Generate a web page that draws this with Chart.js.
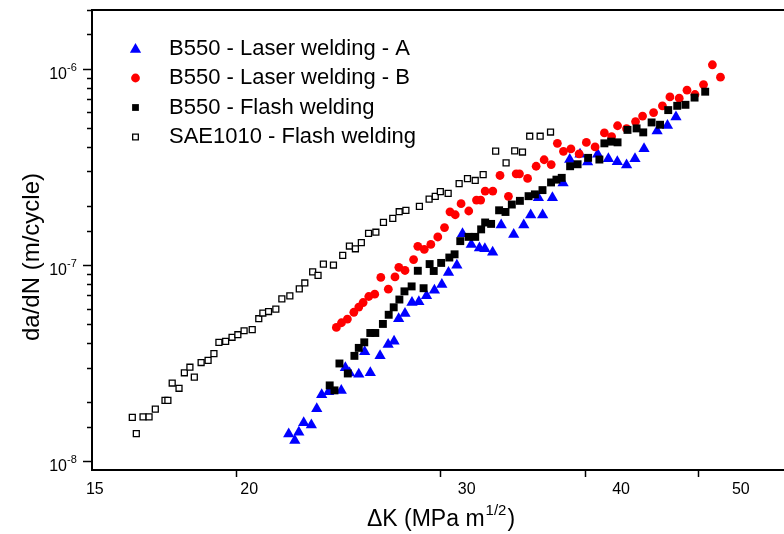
<!DOCTYPE html>
<html>
<head>
<meta charset="utf-8">
<script src="https://cdn.jsdelivr.net/npm/chart.js@4.4.1/dist/chart.umd.min.js"></script>
<style>
  html, body { margin: 0; padding: 0; background: #fff; overflow: hidden; }
  #wrap { width: 800px; height: 534px; }
</style>
</head>
<body>
<div id="wrap"><canvas id="myChart" width="800" height="534"></canvas></div>
<script>
// crack growth rate da/dN (m/cycle) against stress intensity range dK (MPa m^1/2)
const laserA_dK = [22.17,22.44,22.62,22.84,23.19,23.44,23.67,24.00,24.61,24.81,25.02,25.48,25.78,26.07,26.58,27.01,27.33,27.58,27.93,28.32,28.71,29.15,29.61,30.05,30.45,30.96,31.31,31.86,32.38,32.73,33.24,33.81,34.66,35.36,35.85,36.40,36.71,37.43,38.23,38.74,39.54,40.14,40.95,41.83,42.58,43.37,44.10,44.90,46.08,47.04,47.84];
const laserA_rate = [1.374e-8,1.271e-8,1.404e-8,1.568e-8,1.528e-8,1.847e-8,2.176e-8,2.254e-8,2.293e-8,2.993e-8,2.813e-8,2.771e-8,3.609e-8,2.823e-8,3.444e-8,3.935e-8,4.089e-8,5.319e-8,5.660e-8,6.437e-8,6.490e-8,6.964e-8,7.426e-8,7.962e-8,9.162e-8,9.977e-8,1.445e-7,1.271e-7,1.223e-7,1.210e-7,1.161e-7,1.600e-7,1.433e-7,1.600e-7,1.798e-7,2.202e-7,1.798e-7,2.202e-7,2.623e-7,3.459e-7,3.673e-7,3.353e-7,3.673e-7,3.484e-7,3.365e-7,3.237e-7,3.484e-7,3.916e-7,4.829e-7,5.148e-7,5.692e-7];

const laserB_dK = [24.37,24.62,24.91,25.23,25.48,25.70,25.99,26.30,26.62,27.02,27.38,27.59,27.93,28.41,28.65,29.02,29.40,29.81,30.21,30.54,30.86,31.22,31.70,32.19,32.46,32.75,33.25,33.73,34.30,34.83,35.06,35.63,36.24,36.82,37.34,37.80,38.26,38.83,39.47,40.04,40.74,41.50,42.10,42.60,43.37,44.15,44.77,45.76,46.57,47.27,48.15,48.90,49.68,50.53,51.43,52.26];
const laserB_rate = [4.805e-8,5.076e-8,5.301e-8,5.740e-8,6.099e-8,6.437e-8,6.908e-8,7.104e-8,8.641e-8,7.529e-8,8.692e-8,9.734e-8,9.378e-8,1.066e-7,1.246e-7,1.203e-7,1.273e-7,1.390e-7,1.553e-7,1.869e-7,1.805e-7,2.056e-7,1.886e-7,2.145e-7,2.145e-7,2.383e-7,2.383e-7,2.863e-7,2.240e-7,2.920e-7,2.920e-7,2.764e-7,3.191e-7,3.444e-7,3.256e-7,4.176e-7,3.800e-7,3.912e-7,3.690e-7,4.220e-7,4.004e-7,4.717e-7,4.517e-7,5.135e-7,4.960e-7,5.395e-7,5.753e-7,5.993e-7,6.490e-7,7.208e-7,7.099e-7,7.796e-7,7.413e-7,8.324e-7,1.051e-6,9.087e-7];

const flash_dK = [24.05,24.28,24.52,24.93,25.26,25.48,25.76,26.07,26.33,26.73,27.04,27.31,27.62,27.90,28.30,28.65,28.98,29.33,29.57,30.01,30.50,30.82,31.17,31.69,32.11,32.49,32.75,33.14,33.67,34.10,34.53,35.09,35.70,36.15,36.70,37.33,37.73,38.13,38.77,39.35,40.18,41.09,41.50,42.06,42.60,43.45,44.24,44.83,45.58,46.35,47.11,47.96,48.75,49.64,50.70];
const flash_rate = [2.431e-8,2.293e-8,3.145e-8,2.797e-8,3.440e-8,3.778e-8,4.032e-8,4.500e-8,4.500e-8,5.005e-8,5.574e-8,6.085e-8,6.667e-8,7.339e-8,7.778e-8,9.345e-8,7.615e-8,1.011e-7,9.322e-8,1.025e-7,1.092e-7,1.134e-7,1.324e-7,1.392e-7,1.392e-7,1.520e-7,1.648e-7,1.621e-7,1.902e-7,1.865e-7,2.035e-7,2.125e-7,2.245e-7,2.293e-7,2.411e-7,2.638e-7,2.726e-7,2.784e-7,3.191e-7,3.266e-7,3.521e-7,3.452e-7,4.176e-7,4.260e-7,4.225e-7,4.891e-7,4.977e-7,4.750e-7,5.338e-7,5.196e-7,6.171e-7,6.490e-7,6.567e-7,7.148e-7,7.660e-7];

const sae_dK = [16.25,16.38,16.60,16.80,17.01,17.34,17.44,17.59,17.83,18.02,18.22,18.38,18.63,18.89,19.11,19.30,19.56,19.81,20.04,20.29,20.62,20.89,21.06,21.30,21.61,21.87,22.22,22.64,22.89,23.25,23.50,23.75,24.23,24.68,25.01,25.31,25.61,25.98,26.36,26.76,27.26,27.61,27.98,28.74,29.30,29.66,29.96,30.43,31.10,31.62,32.11,32.62,33.44,34.14,34.73,35.27,35.78,36.53,37.29];
const sae_rate = [1.67e-8,1.38e-8,1.68e-8,1.68e-8,1.84e-8,2.04e-8,2.04e-8,2.50e-8,2.35e-8,2.82e-8,3.01e-8,2.68e-8,3.18e-8,3.26e-8,3.53e-8,4.03e-8,4.08e-8,4.28e-8,4.41e-8,4.62e-8,4.68e-8,5.32e-8,5.69e-8,5.79e-8,5.96e-8,6.72e-8,6.96e-8,7.55e-8,8.10e-8,9.22e-8,8.85e-8,1.01e-7,1.00e-7,1.12e-7,1.25e-7,1.21e-7,1.30e-7,1.45e-7,1.47e-7,1.65e-7,1.73e-7,1.87e-7,1.90e-7,1.99e-7,2.17e-7,2.24e-7,2.37e-7,2.32e-7,2.60e-7,2.76e-7,2.70e-7,2.89e-7,3.81e-7,3.32e-7,3.82e-7,3.77e-7,4.54e-7,4.54e-7,4.77e-7];

const seriesLabels = ['B550 - Laser welding - A', 'B550 - Laser welding - B', 'B550 - Flash welding', 'SAE1010 - Flash welding'];
const xTicks = [20, 30, 40, 50];
const xTickLabels = [15, 20, 30, 40, 50];
const yDecades = [1e-8, 1e-7, 1e-6];

const FONT = '"Liberation Sans", Arial, sans-serif';

const toPoints = (xs, ys) => xs.map((x, i) => ({x: x, y: ys[i]}));

// hand drawn bits: y tick marks, 10^n labels, axis titles, frame top, legend
const extras = {
    id: 'extras',
    afterDraw(chart) {
        const ctx = chart.ctx;
        const area = chart.chartArea;
        const ys = chart.scales.y;
        ctx.save();
        ctx.strokeStyle = '#000';
        ctx.fillStyle = '#000';

        ctx.lineWidth = 2;
        ctx.beginPath();
        ctx.moveTo(area.left - 1, area.top);
        ctx.lineTo(area.right, area.top);
        ctx.stroke();

        ctx.lineWidth = 1.5;
        ys.ticks.forEach(t => {
            if (t.value <= ys.min || t.value > ys.max) return;
            const py = Math.round(ys.getPixelForValue(t.value)) + 0.5;
            const lg = Math.log10(t.value);
            const len = Math.abs(lg - Math.round(lg)) < 1e-6 ? 9 : 5;
            ctx.beginPath();
            ctx.moveTo(area.left - len, py);
            ctx.lineTo(area.left, py);
            ctx.stroke();
        });

        yDecades.forEach(v => {
            const py = ys.getPixelForValue(v);
            ctx.font = '16px ' + FONT;
            ctx.textAlign = 'right';
            ctx.textBaseline = 'alphabetic';
            ctx.fillText('10', area.left - 25, py + 10);
            ctx.font = '11px ' + FONT;
            ctx.textAlign = 'left';
            ctx.fillText(String(Math.round(Math.log10(v))), area.left - 25, py + 1.5);
        });

        // x title with superscript exponent
        const xMain = '\u0394K (MPa m', xSup = '1/2', xEnd = ')';
        ctx.font = '23px ' + FONT;
        const w1 = ctx.measureText(xMain).width;
        const w3 = ctx.measureText(xEnd).width;
        ctx.font = '15px ' + FONT;
        const w2 = ctx.measureText(xSup).width;
        const x0 = (area.left + area.right) / 2 - (w1 + w2 + w3 + 2) / 2;
        const base = 526;
        ctx.textAlign = 'left';
        ctx.textBaseline = 'alphabetic';
        ctx.font = '23px ' + FONT;
        ctx.fillText(xMain, x0, base);
        ctx.font = '15px ' + FONT;
        ctx.fillText(xSup, x0 + w1 + 1, base - 11);
        ctx.font = '23px ' + FONT;
        ctx.fillText(xEnd, x0 + w1 + w2 + 2, base);

        ctx.save();
        ctx.translate(32, 257);
        ctx.rotate(-Math.PI / 2);
        ctx.textAlign = 'center';
        ctx.textBaseline = 'middle';
        ctx.font = '24px ' + FONT;
        ctx.fillText('da/dN (m/cycle)', 0, 0);
        ctx.restore();

        // legend inside the plot
        chart.data.datasets.forEach((ds, i) => {
            const ly = 48.5 + i * 29.5;
            ctx.fillStyle = ds.backgroundColor;
            ctx.strokeStyle = ds.borderColor;
            ctx.lineWidth = ds.borderWidth;
            Chart.helpers.drawPoint(ctx, {
                pointStyle: ds.pointStyle,
                radius: ds.legendRadius,
                rotation: 0,
                borderWidth: ds.borderWidth
            }, 135.5, ly + ds.legendShift);
            ctx.fillStyle = '#000';
            ctx.font = '22px ' + FONT;
            ctx.textAlign = 'left';
            ctx.textBaseline = 'middle';
            ctx.fillText(ds.label, 169, ly);
        });
        ctx.restore();
    }
};

new Chart(document.getElementById('myChart'), {
    type: 'scatter',
    data: {
        datasets: [
            {label: seriesLabels[0], data: toPoints(laserA_dK, laserA_rate), pointStyle: 'triangle', pointRadius: 6.5, legendRadius: 6.5, legendShift: 1,
             backgroundColor: '#0000ff', borderColor: '#0000ff', borderWidth: 0, order: 4},
            {label: seriesLabels[1], data: toPoints(laserB_dK, laserB_rate), pointStyle: 'circle', pointRadius: 4.4, legendRadius: 4.4, legendShift: 0,
             backgroundColor: '#ff0000', borderColor: '#ff0000', borderWidth: 0, order: 3},
            {label: seriesLabels[2], data: toPoints(flash_dK, flash_rate), pointStyle: 'rect', pointRadius: 5.6, legendRadius: 4.8, legendShift: 0,
             backgroundColor: '#000000', borderColor: '#000000', borderWidth: 0, order: 2},
            {label: seriesLabels[3], data: toPoints(sae_dK, sae_rate), pointStyle: 'rect', pointRadius: 4.2, legendRadius: 4.0, legendShift: 0,
             backgroundColor: '#ffffff', borderColor: '#000000', borderWidth: 1.3, order: 1}
        ]
    },
    options: {
        responsive: false,
        animation: false,
        devicePixelRatio: 1,
        events: [],
        layout: {padding: {top: 10, right: 10, left: 0, bottom: 0}},
        plugins: {legend: {display: false}, tooltip: {enabled: false}},
        elements: {point: {hoverRadius: 0}},
        scales: {
            x: {
                type: 'logarithmic', position: 'bottom', min: 15, max: 60, weight: 0,
                afterBuildTicks: s => { s.ticks = xTicks.map(v => ({value: v})); },
                afterFit: s => { s.height = 7; },
                ticks: {display: false},
                grid: {drawOnChartArea: false, drawTicks: true, tickLength: 7, tickWidth: 1.5, tickColor: '#000'},
                border: {display: true, color: '#000', width: 2}
            },
            xl: {
                type: 'logarithmic', position: 'bottom', min: 14.92, max: 54.8, weight: 1,
                afterBuildTicks: s => { s.ticks = xTickLabels.map(v => ({value: v})); },
                afterFit: s => { s.height = 57; },
                ticks: {color: '#000', font: {family: FONT, size: 16}, padding: 3, maxRotation: 0, autoSkip: false,
                        callback: v => String(v)},
                grid: {display: false, drawTicks: false},
                border: {display: false}
            },
            y: {
                type: 'logarithmic', min: 9e-9, max: 2e-6,
                afterFit: s => { s.width = 92; },
                ticks: {display: false},
                grid: {display: false},
                border: {display: true, color: '#000', width: 2}
            }
        }
    },
    plugins: [extras]
});
</script>
</body>
</html>
